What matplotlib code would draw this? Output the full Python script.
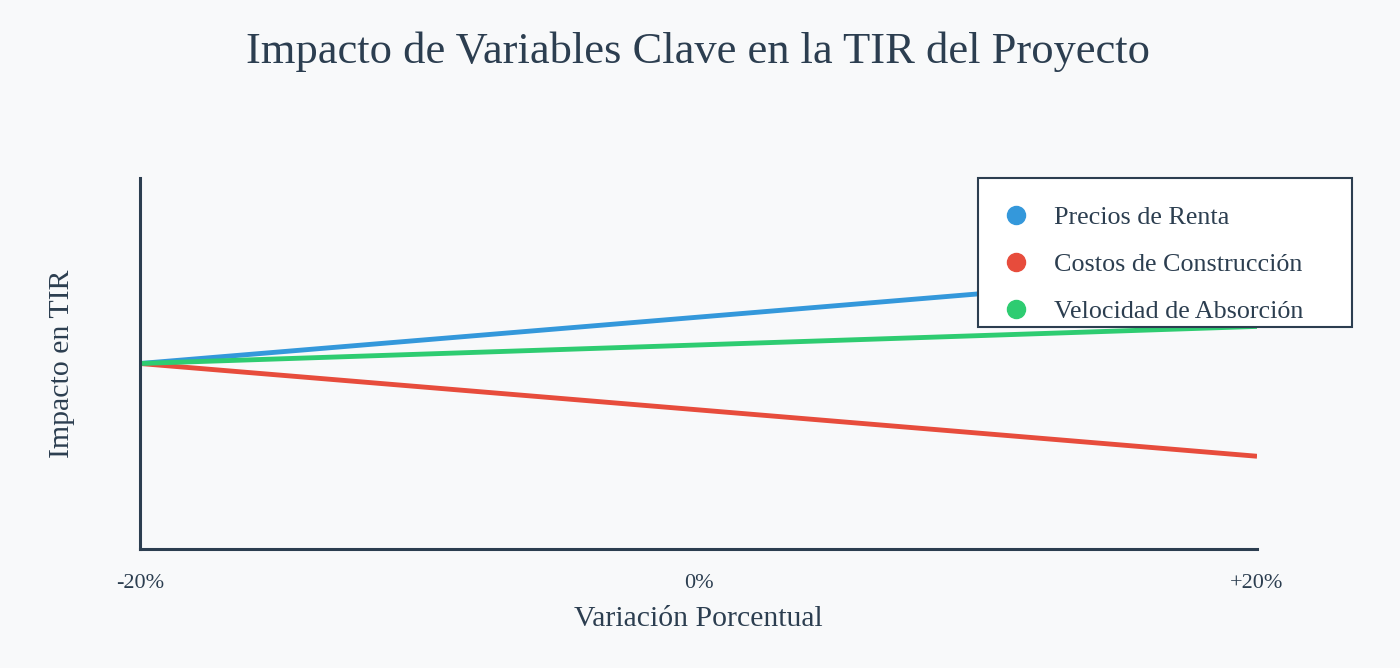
import matplotlib
matplotlib.use("Agg")
import matplotlib.pyplot as plt
from matplotlib.lines import Line2D
from matplotlib.patches import Rectangle

# data
variation = [-20, 0, 20]
tick_labels = ["-20%", "0%", "+20%"]
precios_renta = [0, 2.5, 5]
costos_construccion = [0, -2.5, -5]
velocidad_absorcion = [0, 1, 2]

series_names = ["Precios de Renta", "Costos de Construcción", "Velocidad de Absorción"]
series_colors = ["#3498db", "#e74c3c", "#2ecc71"]

bg = "#f8f9fa"
ink = "#2c3e50"

plt.rcParams["font.family"] = ["Liberation Serif", "DejaVu Serif"]

fig = plt.figure(figsize=(14, 6.68), dpi=100, facecolor=bg)
ax = fig.add_axes([140 / 1400, 1 - 549 / 668, 1117 / 1400, 371 / 668], facecolor=bg)

for ys, color in zip([precios_renta, costos_construccion, velocidad_absorcion], series_colors):
    ax.plot(variation, ys, color=color, linewidth=3.5, solid_capstyle="butt")

ax.set_xlim(-20, 20)
ax.set_ylim(-10, 10)
ax.set_xticks(variation)
ax.set_xticklabels(tick_labels, fontsize=16, color=ink)
ax.tick_params(axis="x", length=0, pad=18)
ax.set_yticks([])

for side in ["top", "right"]:
    ax.spines[side].set_visible(False)
for side in ["left", "bottom"]:
    ax.spines[side].set_color(ink)
    ax.spines[side].set_linewidth(2.2)

ax.set_xlabel("Variación Porcentual", fontsize=21.4, color=ink, labelpad=9)
ax.set_ylabel("Impacto en TIR", fontsize=21.5, color=ink, labelpad=47)

fig.text(0.4986, 1 - 52 / 668, "Impacto de Variables Clave en la TIR del Proyecto",
         ha="center", va="center", fontsize=32, color=ink)

# legend box drawn separately (padding is uneven top/bottom)
fig.patches.append(Rectangle((978 / 1400, 1 - 327 / 668), 374 / 1400, 149 / 668,
                             transform=fig.transFigure, facecolor="white",
                             edgecolor=ink, linewidth=1.5, zorder=3))

handles = [Line2D([], [], linestyle="none", marker="o", markersize=13,
                  markerfacecolor=c, markeredgecolor=c) for c in series_colors]
leg = fig.legend(handles, series_names, loc="upper left",
                 bbox_to_anchor=(1003 / 1400, 1 - 206 / 668), borderaxespad=0,
                 fontsize=18.8, frameon=False, handlelength=1.0,
                 handletextpad=0.96, borderpad=0, labelspacing=0.9, labelcolor=ink)
leg.set_zorder(4)

fig.savefig("out.png", dpi=100, facecolor=bg)
